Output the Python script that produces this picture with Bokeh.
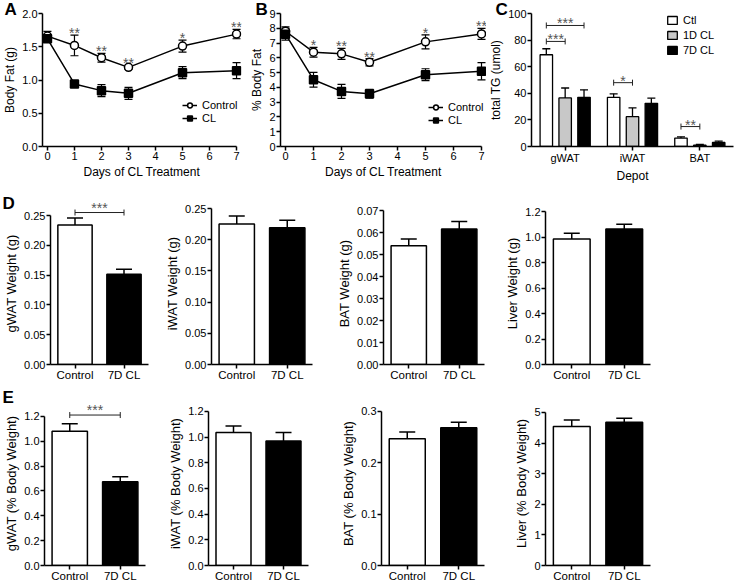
import numpy as np
from bokeh.plotting import figure
from bokeh.layouts import column, row
from bokeh.models import (Range1d, FactorRange, FixedTicker, NumeralTickFormatter,
                          ColumnDataSource, Whisker, TeeHead, LabelSet, Title,
                          Legend, LegendItem)
from bokeh.core.properties import value
from bokeh.embed import file_html
from bokeh.resources import INLINE

# ---------------- data ----------------
days = [0, 1, 2, 3, 5, 7]
day_ticks = [0, 1, 2, 3, 4, 5, 6, 7]

fat_g_control = [1.66, 1.52, 1.335, 1.19, 1.51, 1.69]
fat_g_control_sem = [0.07, 0.155, 0.065, 0.03, 0.09, 0.07]
fat_g_cl = [1.62, 0.94, 0.84, 0.80, 1.11, 1.14]
fat_g_cl_sem = [0.05, 0.05, 0.09, 0.09, 0.09, 0.12]
fat_g_stars = ["", "**", "**", "**", "*", "**"]
fat_g_ticks = [0.0, 0.5, 1.0, 1.5, 2.0]

fat_pct_control = [7.8, 6.38, 6.27, 5.70, 7.08, 7.62]
fat_pct_control_sem = [0.3, 0.33, 0.37, 0.25, 0.48, 0.37]
fat_pct_cl = [7.6, 4.52, 3.73, 3.57, 4.86, 5.09]
fat_pct_cl_sem = [0.4, 0.5, 0.47, 0.3, 0.4, 0.58]
fat_pct_stars = ["", "*", "**", "**", "*", "**"]
fat_pct_ticks = [0, 1, 2, 3, 4, 5, 6, 7, 8, 9]

depots = ["gWAT", "iWAT", "BAT"]
tg_series = ["Ctl", "1D CL", "7D CL"]
tg_ctl = [69.0, 37.0, 6.3]
tg_ctl_sem = [4.5, 2.6, 1.0]
tg_1d = [36.5, 22.4, 1.0]
tg_1d_sem = [7.5, 6.6, 0.5]
tg_7d = [37.0, 32.5, 3.0]
tg_7d_sem = [5.6, 3.8, 1.0]
tg_ticks = [0, 20, 40, 60, 80, 100]
# (depot, from series, to series, bracket height, label)
tg_brackets = [("gWAT", "Ctl", "7D CL", 91, "***"),
               ("gWAT", "Ctl", "1D CL", 79, "***"),
               ("iWAT", "Ctl", "1D CL", 48, "*"),
               ("BAT", "Ctl", "1D CL", 15, "**")]

groups = ["Control", "7D CL"]
gwat_weight = [0.234, 0.1515]
gwat_weight_sem = [0.012, 0.0085]
iwat_weight = [0.225, 0.219]
iwat_weight_sem = [0.013, 0.012]
bat_weight = [0.054, 0.0616]
bat_weight_sem = [0.003, 0.0034]
liver_weight = [0.985, 1.063]
liver_weight_sem = [0.045, 0.037]

gwat_pct = [1.081, 0.675]
gwat_pct_sem = [0.059, 0.04]
iwat_pct = [1.035, 0.97]
iwat_pct_sem = [0.052, 0.065]
bat_pct = [0.247, 0.268]
bat_pct_sem = [0.013, 0.011]
liver_pct = [4.54, 4.68]
liver_pct_sem = [0.21, 0.13]

ticks_025 = [0.0, 0.05, 0.10, 0.15, 0.20, 0.25]
ticks_007 = [0.0, 0.01, 0.02, 0.03, 0.04, 0.05, 0.06, 0.07]
ticks_12 = [0.0, 0.2, 0.4, 0.6, 0.8, 1.0, 1.2]
ticks_03 = [0.0, 0.1, 0.2, 0.3]
ticks_5 = [0, 1, 2, 3, 4, 5]

# ---------------- style ----------------
FONT = "Liberation Sans"
bar_fills = ["white", "black"]
tg_fills = ["white", "#c8c8c8", "black"]
tg_offsets = [-0.28, 0.0, 0.28]
LETTER_SIZE = 17
STAR_SIZE = "14px"
STAR_COLOR = "#555555"


def new_fig(g, x_range, y_range):
    p = figure(width=g["w"], height=g["h"], x_range=x_range, y_range=y_range,
               min_border_left=g["l"], min_border_right=g["r"],
               min_border_top=g["F"], min_border_bottom=g["b"],
               title=None, toolbar_location=None, output_backend="svg",
               background_fill_color="white", border_fill_color="white")
    p.outline_line_color = None
    p.xgrid.visible = False
    p.ygrid.visible = False
    for ax in p.axis:
        ax.axis_line_width = 1.5
        ax.axis_line_color = "black"
        ax.major_tick_line_width = 1.5
        ax.major_tick_line_color = "black"
        ax.major_tick_in = 0
        ax.major_tick_out = 4
        ax.minor_tick_line_color = None
        ax.major_label_text_font = FONT
        ax.major_label_text_font_size = "11px"
        ax.major_label_text_color = "black"
        ax.major_label_standoff = 1
        ax.axis_label_text_font = FONT
        ax.axis_label_text_font_size = "12px"
        ax.axis_label_text_font_style = "normal"
        ax.axis_label_text_color = "black"
        ax.axis_label_standoff = 2
    return p


def y_range_for(g, yticks):
    # the axis itself ends at the last tick; the frame may reach a little higher
    ytop = yticks[-1]
    axis_h = (g["h"] - g["b"]) - g["t"]
    y_end = ytop + (g["t"] - g["F"]) / axis_h * (ytop - yticks[0])
    return Range1d(yticks[0], y_end)


def add_letter(p, g, letter, px, cap_top):
    text_bottom = cap_top + (0.716 + 0.212) * LETTER_SIZE
    standoff = int(round(2 * (g["F"] - text_bottom)))
    p.add_layout(Title(text=letter, align="left", vertical_align="bottom",
                       offset=px - g["l"], standoff=standoff,
                       text_font=FONT, text_font_size=f"{LETTER_SIZE}px",
                       text_font_style="bold", text_color="black"), "above")


def add_bracket(p, x0, x1, y, text, y_offset):
    src = ColumnDataSource(dict(base=[y], lower=[x0], upper=[x1], xm=[(x0 + x1) / 2], t=[text]))
    p.add_layout(Whisker(source=src, base="base", lower="lower", upper="upper",
                         dimension="width", line_color="#222222", line_width=1,
                         upper_head=TeeHead(size=6, line_width=1, line_color="#222222"),
                         lower_head=TeeHead(size=6, line_width=1, line_color="#222222")))
    p.add_layout(LabelSet(source=src, x="xm", y="base", text="t", text_align="center",
                          text_baseline="alphabetic", y_offset=y_offset,
                          text_font=value(FONT), text_font_size=value(STAR_SIZE),
                          text_color=STAR_COLOR))


def style_legend(leg, gw, gh, standoff, spacing):
    leg.border_line_color = None
    leg.background_fill_alpha = 0
    leg.padding = 0
    leg.margin = 0
    leg.label_text_font = FONT
    leg.label_text_font_size = "11px"
    leg.label_text_color = "black"
    leg.glyph_width = gw
    leg.glyph_height = gh
    leg.label_height = gh
    leg.label_standoff = standoff
    leg.spacing = spacing


def timecourse(g, ylabel, yticks, yfmt, ctl, ctl_sem, cl, cl_sem, stars, legend_loc, letter, letter_pos):
    fw = g["w"] - g["l"] - g["r"]
    ppu = (fw - g["pl"] - g["pr"]) / (days[-1] - days[0])
    x0 = days[0] - g["pl"] / ppu
    x1 = days[-1] + g["pr"] / ppu
    p = new_fig(g, Range1d(x0, x1), y_range_for(g, yticks))
    p.xaxis.ticker = FixedTicker(ticks=day_ticks)
    p.xaxis.bounds = (x0, days[-1])
    p.yaxis.ticker = FixedTicker(ticks=yticks)
    p.yaxis.formatter = NumeralTickFormatter(format=yfmt)
    p.xaxis.axis_label = "Days of CL Treatment"
    p.yaxis.axis_label = ylabel
    items = []
    for name, vals, sem, marker, fill in [("Control", ctl, ctl_sem, "circle", "white"),
                                          ("CL", cl, cl_sem, "square", "black")]:
        v = np.array(vals)
        s = np.array(sem)
        src = ColumnDataSource(dict(x=days, y=vals, lo=v - s, hi=v + s))
        p.add_layout(Whisker(source=src, base="x", lower="lo", upper="hi", dimension="height",
                             line_color="black", line_width=1.2,
                             upper_head=TeeHead(size=8, line_width=1.2, line_color="black"),
                             lower_head=TeeHead(size=8, line_width=1.2, line_color="black")))
        ln = p.line("x", "y", source=src, line_color="black", line_width=1.5)
        sc = p.scatter("x", "y", source=src, marker=marker, size=8, fill_color=fill,
                       line_color="black", line_width=1.5)
        items.append(LegendItem(label=name, renderers=[ln, sc]))
    top = np.array(ctl) + np.array(ctl_sem)
    ssrc = ColumnDataSource(dict(x=days, y=top, t=stars))
    p.add_layout(LabelSet(source=ssrc, x="x", y="y", text="t", text_align="center",
                          text_baseline="alphabetic", y_offset=-3,
                          text_font=value(FONT), text_font_size=value(STAR_SIZE),
                          text_color=STAR_COLOR))
    leg = Legend(items=items, location=legend_loc)
    style_legend(leg, 15, 12, 5, 1)
    p.add_layout(leg)
    add_letter(p, g, letter, *letter_pos)
    return p


def bar_panel(g, ylabel, yticks, yfmt, vals, sem, bracket=None, letter=None, letter_pos=None):
    p = new_fig(g, FactorRange(factors=groups), y_range_for(g, yticks))
    p.yaxis.ticker = FixedTicker(ticks=yticks)
    p.yaxis.bounds = (yticks[0], yticks[-1])
    p.yaxis.formatter = NumeralTickFormatter(format=yfmt)
    p.yaxis.axis_label = ylabel
    p.yaxis.axis_label_text_font_size = "13px"
    p.xaxis.major_label_text_font_size = "11.5px"
    p.xaxis.major_label_standoff = 0
    p.vbar(x=groups, top=vals, bottom=0, width=0.7, fill_color=bar_fills,
           line_color="black", line_width=1.5)
    v = np.array(vals)
    s = np.array(sem)
    pos = [i + 0.5 for i in range(len(groups))]
    src = ColumnDataSource(dict(x=pos, lo=v, hi=v + s))
    p.add_layout(Whisker(source=src, base="x", lower="lo", upper="hi", dimension="height",
                         line_color="black", line_width=1.5, lower_head=None,
                         upper_head=TeeHead(size=16, line_width=1.5, line_color="black")))
    if bracket is not None:
        y, text, yoff = bracket
        add_bracket(p, pos[0], pos[1], y, text, yoff)
    if letter is not None:
        add_letter(p, g, letter, *letter_pos)
    return p


# Figures in one row share their top and bottom borders.
ROW1 = dict(h=192, F=13, b=46)
ROW2 = dict(h=196, F=10, b=24)
ROW3 = dict(h=196, F=13, b=18)

# ---------------- row 1: panels A, B, C ----------------
gA = dict(ROW1, w=246, l=40, r=5, t=13, pl=5, pr=5)
gB = dict(ROW1, w=240, l=34, r=0, t=13, pl=5, pr=5)
gC = dict(ROW1, w=248, l=45, r=1, t=13)

pA = timecourse(gA, "Body Fat (g)", fat_g_ticks, "0.0", fat_g_control, fat_g_control_sem,
                fat_g_cl, fat_g_cl_sem, fat_g_stars, (140, 22), "A", (2, 2.5))
pB = timecourse(gB, "% Body Fat", fat_pct_ticks, "0", fat_pct_control, fat_pct_control_sem,
                fat_pct_cl, fat_pct_cl_sem, fat_pct_stars, (148, 20), "B", (9, 2.5))

pC = new_fig(gC, FactorRange(factors=depots), y_range_for(gC, tg_ticks))
pC.yaxis.ticker = FixedTicker(ticks=tg_ticks)
pC.yaxis.formatter = NumeralTickFormatter(format="0")
pC.yaxis.axis_label = "total TG (umol)"
pC.xaxis.axis_label = "Depot"
c_items = []
c_pos = {}
for name, vals, sem, fill, off in zip(tg_series, [tg_ctl, tg_1d, tg_7d],
                                      [tg_ctl_sem, tg_1d_sem, tg_7d_sem], tg_fills, tg_offsets):
    xs = [i + 0.5 + off for i in range(len(depots))]
    c_pos[name] = xs
    r = pC.vbar(x=xs, top=vals, bottom=0, width=0.185, fill_color=fill,
                line_color="black", line_width=1.3)
    v = np.array(vals)
    s = np.array(sem)
    src = ColumnDataSource(dict(x=xs, lo=v, hi=v + s))
    pC.add_layout(Whisker(source=src, base="x", lower="lo", upper="hi", dimension="height",
                          line_color="black", line_width=1.3, lower_head=None,
                          upper_head=TeeHead(size=8, line_width=1.3, line_color="black")))
    c_items.append(LegendItem(label=name, renderers=[r]))
for depot, a, b, y, text in tg_brackets:
    k = depots.index(depot)
    add_bracket(pC, c_pos[a][k], c_pos[b][k], y, text, -3)
legC = Legend(items=c_items, location=(135, 90))
style_legend(legC, 12, 10, 5, 3)
pC.add_layout(legC)
add_letter(pC, gC, "C", 9, 2.5)

# ---------------- row D ----------------
gD1 = dict(ROW2, w=162, l=50, r=14, t=23)
gD2 = dict(ROW2, w=172, l=48, r=22, t=16)
gD3 = dict(ROW2, w=167, l=48, r=17, t=18)
gD4 = dict(ROW2, w=233, l=44, r=84, t=19)

pD1 = bar_panel(gD1, "gWAT Weight (g)", ticks_025, "0.00", gwat_weight, gwat_weight_sem,
                bracket=(0.255, "***", 0), letter="D", letter_pos=(2, 4))
pD2 = bar_panel(gD2, "iWAT Weight (g)", ticks_025, "0.00", iwat_weight, iwat_weight_sem)
pD3 = bar_panel(gD3, "BAT Weight (g)", ticks_007, "0.00", bat_weight, bat_weight_sem)
pD4 = bar_panel(gD4, "Liver Weight (g)", ticks_12, "0.0", liver_weight, liver_weight_sem)

# ---------------- row E ----------------
gE1 = dict(ROW3, w=162, l=44, r=17, t=28)
gE2 = dict(ROW3, w=172, l=46, r=26, t=23)
gE3 = dict(ROW3, w=167, l=47, r=17, t=23)
gE4 = dict(ROW3, w=233, l=44, r=84, t=24)

pE1 = bar_panel(gE1, "gWAT (% Body Weight)", ticks_12, "0.0", gwat_pct, gwat_pct_sem,
                bracket=(1.211, "***", 0), letter="E", letter_pos=(2, 2.5))
pE2 = bar_panel(gE2, "iWAT (% Body Weight)", ticks_12, "0.0", iwat_pct, iwat_pct_sem)
pE3 = bar_panel(gE3, "BAT (% Body Weight)", ticks_03, "0.0", bat_pct, bat_pct_sem)
pE4 = bar_panel(gE4, "Liver (% Body Weight)", ticks_5, "0", liver_pct, liver_pct_sem)

layout = column(row(pA, pB, pC), row(pD1, pD2, pD3, pD4), row(pE1, pE2, pE3, pE4))

with open("out.html", "w") as f:
    f.write(file_html(layout, INLINE))
